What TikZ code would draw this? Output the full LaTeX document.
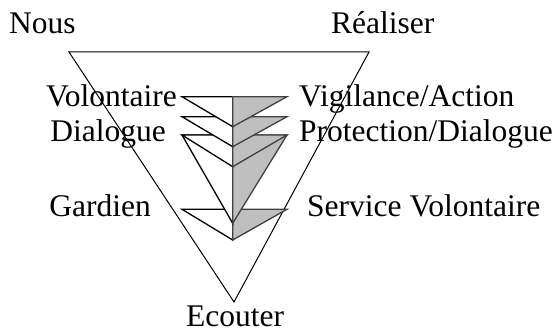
\documentclass[tikz,border=0pt]{standalone}
\usepackage{fontspec}
\setmainfont{Liberation Serif}
\begin{document}
\begin{tikzpicture}[x=1pt, y=-1pt, font=\fontsize{31.5}{36}\selectfont,
    every node/.style={inner sep=0pt},
    lwing/.style={draw=black, fill=white, line width=1.3pt, line join=miter},
    rwing/.style={draw=black!75, fill=black!25, line width=1.3pt, line join=miter}]
  \useasboundingbox (0,0) rectangle (558,329);
  % Grand triangle
  \coordinate (tl) at (69,52);
  \coordinate (tr) at (369,52);
  \coordinate (bt) at (234,302);
  \draw[line width=1pt] (tl) -- (tr) -- (bt) -- cycle;
  % Coins
  \node[anchor=base west] (nous) at (9,33.3) {Nous};
  \node[anchor=base west] (real) at (331,33.3) {Réaliser};
  \node[anchor=base] (ecou) at (235,326) {Ecouter};
  % Fleches, du bas vers le haut
  \filldraw[lwing] (182,209.3) -- (232.7,209.3) -- (232.7,240) -- cycle;
  \filldraw[rwing] (287,209.3) -- (232.7,209.3) -- (232.7,240) -- cycle;
  \filldraw[lwing] (182,135) -- (232.7,135) -- (232.7,223.3) -- cycle;
  \filldraw[rwing] (287,135) -- (232.7,135) -- (232.7,223.3) -- cycle;
  \filldraw[lwing] (182,135) -- (232.7,135) -- (232.7,166.7) -- cycle;
  \filldraw[rwing] (287,135) -- (232.7,135) -- (232.7,166.7) -- cycle;
  \filldraw[lwing] (182,116.7) -- (232.7,116.7) -- (232.7,146.7) -- cycle;
  \filldraw[rwing] (287,116.7) -- (232.7,116.7) -- (232.7,146.7) -- cycle;
  \filldraw[lwing] (182,96.7) -- (232.7,96.7) -- (232.7,126.7) -- cycle;
  \filldraw[rwing] (287,96.7) -- (232.7,96.7) -- (232.7,126.7) -- cycle;
  % Etiquettes gauche
  \node[anchor=base east] (volo) at (177,106.7) {Volontaire};
  \node[anchor=base east] (dial) at (166,141.7) {Dialogue};
  \node[anchor=base east] (gard) at (151,217) {Gardien};
  % Etiquettes droite
  \node[anchor=base west] (vigi) at (299,106.7) {Vigilance/Action};
  \node[anchor=base west] (prot) at (299,141.7) {Protection/Dialogue};
  \node[anchor=base west] (serv) at (307,216.7) {Service Volontaire};
\end{tikzpicture}
\end{document}
